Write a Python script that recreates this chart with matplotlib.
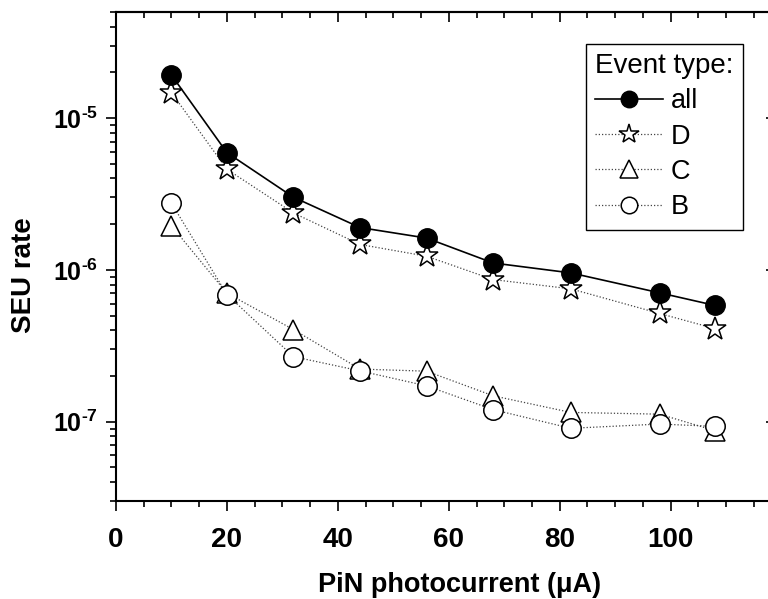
import math
import matplotlib
matplotlib.use('Agg')
import matplotlib.pyplot as plt
from matplotlib.ticker import MultipleLocator, LogLocator, FuncFormatter, NullFormatter

plt.rcParams['font.family'] = ['Liberation Sans', 'DejaVu Sans']
plt.rcParams['mathtext.fontset'] = 'custom'
plt.rcParams['mathtext.rm'] = 'Liberation Sans:bold'
plt.rcParams['mathtext.bf'] = 'Liberation Sans:bold'

# data
current = [10, 20, 32, 44, 56, 68, 82, 98, 108]
rate_all = [1.92e-5, 5.92e-6, 3.01e-6, 1.90e-6, 1.62e-6, 1.11e-6, 9.55e-7, 7.06e-7, 5.83e-7]
rate_D = [1.47e-5, 4.60e-6, 2.37e-6, 1.47e-6, 1.23e-6, 8.63e-7, 7.50e-7, 5.16e-7, 4.10e-7]
rate_C = [1.95e-6, 7.02e-7, 4.04e-7, 2.22e-7, 2.15e-7, 1.48e-7, 1.15e-7, 1.12e-7, 8.72e-8]
rate_B = [2.75e-6, 6.88e-7, 2.68e-7, 2.16e-7, 1.72e-7, 1.20e-7, 9.04e-8, 9.64e-8, 9.31e-8]

fig = plt.figure(figsize=(7.68, 5.99), dpi=100)
ax = fig.add_axes([116/768, 98/599, 660/768, 489/599])

dot = (0, (1, 1.6))
ax.plot(current, rate_all, '-', color='black', lw=1.2, marker='o', ms=14,
        mfc='black', mec='black', mew=1.0, label='all', zorder=5)
ax.plot(current, rate_D, linestyle=dot, color='#444444', lw=0.9, marker='*', ms=17,
        mfc='white', mec='black', mew=1.1, label='D', zorder=4)
ax.plot(current, rate_C, linestyle=dot, color='#444444', lw=0.9, marker='^', ms=15,
        mfc='white', mec='black', mew=1.1, label='C', zorder=3)
ax.plot(current, rate_B, linestyle=dot, color='#444444', lw=0.9, marker='o', ms=14,
        mfc='white', mec='black', mew=1.1, label='B', zorder=4)

ax.set_yscale('log')
ax.set_xlim(0, 119)
ax.set_ylim(3e-8, 5e-5)

ax.xaxis.set_major_locator(MultipleLocator(20))
ax.xaxis.set_minor_locator(MultipleLocator(5))
ax.yaxis.set_major_locator(LogLocator(base=10))
ax.yaxis.set_minor_locator(LogLocator(base=10, subs=range(2, 10)))
ax.yaxis.set_minor_formatter(NullFormatter())
ax.yaxis.set_major_formatter(FuncFormatter(
    lambda v, p: r'$\mathbf{10^{\text{-}%d}}$' % abs(round(math.log10(v)))))

for s in ax.spines.values():
    s.set_linewidth(1.5)

ax.tick_params(axis='both', which='major', direction='out', length=7, width=1.2)
ax.tick_params(axis='both', which='minor', direction='out', length=4, width=1.2)
ax.tick_params(axis='x', which='major', labelsize=20, pad=12)
ax.tick_params(axis='y', which='major', labelsize=18, pad=6)
for lab in ax.get_xticklabels() + ax.get_yticklabels():
    lab.set_fontweight('bold')

# mirrored inward ticks on top and right
top = ax.secondary_xaxis('top')
top.xaxis.set_major_locator(MultipleLocator(20))
top.xaxis.set_minor_locator(MultipleLocator(5))
top.tick_params(which='major', direction='in', length=7, width=1.2, labeltop=False)
top.tick_params(which='minor', direction='in', length=4, width=1.2)
top.spines['top'].set_linewidth(1.5)
right = ax.secondary_yaxis('right')
right.tick_params(which='major', direction='in', length=7, width=1.2, labelright=False)
right.tick_params(which='minor', direction='in', length=4, width=1.2)
right.spines['right'].set_linewidth(1.5)

ax.set_xlabel(u'PiN photocurrent (\u03bcA)', fontsize=19.5, fontweight='bold')
ax.set_ylabel('SEU rate', fontsize=20, fontweight='bold')
ax.xaxis.set_label_coords(0.521, -0.145)
ax.yaxis.set_label_coords(-0.12, 0.462)

leg = ax.legend(title='Event type:', loc='upper right', bbox_to_anchor=(0.95, 0.935),
                borderaxespad=0, fontsize=19.5, title_fontsize=20, fancybox=False,
                framealpha=1, edgecolor='black', markerscale=0.85, handlelength=2.5,
                labelspacing=0.34, borderpad=0.35, handletextpad=0.3)
leg.get_frame().set_linewidth(1.0)
leg._legend_box.align = 'left'

plt.savefig('out.png', dpi=100)
